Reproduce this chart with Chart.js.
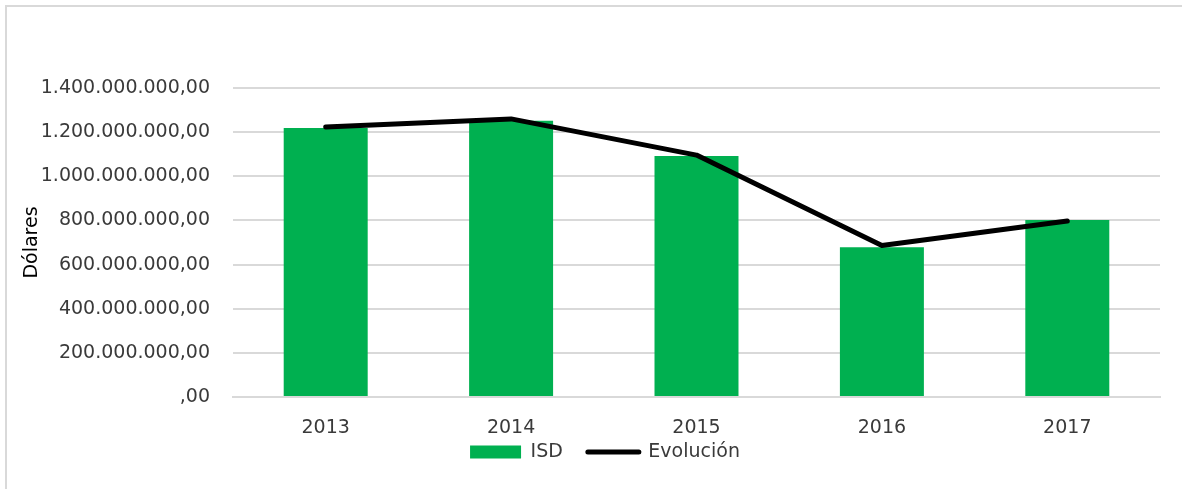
<!DOCTYPE html>
<html lang="es">
<head>
  <meta charset="UTF-8">
  <title>ISD - Dólares</title>
  <script src="https://cdn.jsdelivr.net/npm/chart.js"></script>
  <style>
    html, body { margin: 0; background: #fff; overflow: hidden; }
    .frame {
      position: absolute;
      left: 5px;
      top: 5px;
      width: 1177px;
      height: 484px;
      border-top: 2px solid #d9d9d9;
      border-left: 2px solid #d9d9d9;
      box-sizing: border-box;
    }
    .chart-box {
      position: absolute;
      left: 0;
      top: 0;
      width: 1182px;
      height: 489px;
    }
  </style>
</head>
<body>
  <div class="frame"></div>
  <div class="chart-box">
    <canvas id="isdChart"></canvas>
  </div>

  <script>
    // Datos
    const years = ['2013', '2014', '2015', '2016', '2017'];
    const isdValues = [1219e6, 1252e6, 1092e6, 678e6, 802e6];
    const evolucionValues = [1223e6, 1260e6, 1096e6, 686e6, 797e6];
    const yTickLabels = [',00', '200.000.000,00', '400.000.000,00', '600.000.000,00',
      '800.000.000,00', '1.000.000.000,00', '1.200.000.000,00', '1.400.000.000,00'];
    const yMax = 1400e6;
    const yStep = 200e6;

    const green = '#00b050';
    const textColor = '#3a3a3a';
    const font = { family: 'DejaVu Sans', size: 19 };

    // leyenda: alto fijo y la subimos un poco, más cerca de los años
    const legendPlace = {
      id: 'legendPlace',
      beforeLayout(chart) {
        const lg = chart.legend;
        if (lg && !lg._fixed) {
          const fit = lg.fit;
          lg.fit = function () { fit.call(this); this.height = 48; };
          lg._fixed = true;
        }
      },
      afterLayout(chart) {
        const lg = chart.legend;
        lg.top = 417.5;
        lg.bottom = lg.top + lg.height;
        lg.left += 25;
        lg.right += 25;
      }
    };

    const ctx = document.getElementById('isdChart').getContext('2d');

    const chart = new Chart(ctx, {
      type: 'bar',
      data: {
        labels: years,
        datasets: [
          {
            type: 'bar',
            label: 'ISD',
            data: isdValues,
            backgroundColor: green,
            barPercentage: 0.453,
            categoryPercentage: 1,
            order: 2
          },
          {
            type: 'line',
            label: 'Evolución',
            data: evolucionValues,
            borderColor: '#000',
            backgroundColor: '#000',
            borderWidth: 5,
            borderCapStyle: 'round',
            borderJoinStyle: 'round',
            pointRadius: 0,
            tension: 0,
            order: 1
          }
        ]
      },
      plugins: [legendPlace],
      options: {
        responsive: true,
        maintainAspectRatio: false,
        animation: false,
        layout: {
          padding: { left: 0, right: 22, top: 88, bottom: 0 }
        },
        plugins: {
          tooltip: { enabled: false },
          legend: {
            position: 'bottom',
            labels: {
              color: textColor,
              font: font,
              padding: 25,
              usePointStyle: true,
              pointStyleWidth: 51,
              boxHeight: 13,
              generateLabels: () => [
                { text: 'ISD', fillStyle: green, strokeStyle: green, lineWidth: 0,
                  pointStyle: 'rect', datasetIndex: 0, fontColor: textColor },
                { text: 'Evolución', fillStyle: '#000', strokeStyle: '#000', lineWidth: 5,
                  lineCap: 'round', pointStyle: 'line', datasetIndex: 1, fontColor: textColor }
              ]
            }
          }
        },
        scales: {
          x: {
            grid: { display: false, drawTicks: false },
            border: { display: true, color: '#d9d9d9', width: 2 },
            ticks: { color: textColor, font: font, padding: 20 },
            afterFit: (s) => { s.height = 44; }
          },
          y: {
            min: 0,
            max: yMax,
            grid: { color: '#d9d9d9', lineWidth: 2, drawTicks: false },
            border: { display: false },
            ticks: {
              stepSize: yStep,
              color: textColor,
              font: font,
              padding: 23,
              callback: (v, i) => yTickLabels[i]
            },
            title: {
              display: true,
              text: 'Dólares',
              color: '#000',
              font: font,
              padding: { top: 21, bottom: 0 }
            },
            afterFit: (s) => { s.width = 233; }
          }
        }
      }
    });
  </script>
</body>
</html>
